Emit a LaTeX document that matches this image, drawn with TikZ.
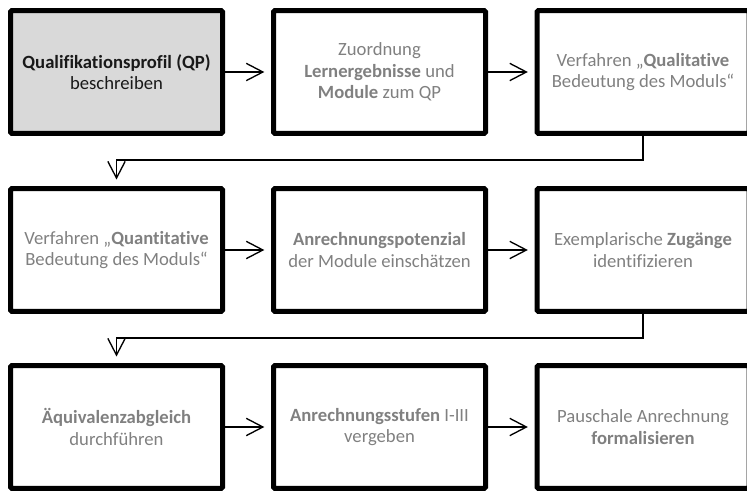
\documentclass[tikz,border=0pt]{standalone}
\usepackage{fontspec}
\setmainfont{Carlito}[Ligatures=NoCommon]
\usetikzlibrary{arrows.meta}
\definecolor{boxgray}{HTML}{D9D9D9}
\definecolor{txtgray}{HTML}{808080}
\begin{document}
\begin{tikzpicture}[x=0.75pt,y=-0.75pt,
    schritt/.style={draw=black,line width=3.75pt,rounded corners=1pt,
        minimum width=159pt,minimum height=92pt,align=center,
        text=txtgray,font=\fontsize{14}{16}\selectfont},
    pfeil/.style={line width=1pt,-{Straight Barb[length=12.5pt,width=13pt]},shorten >=5pt}]
\clip (0,0) rectangle (747,491);

% erste Reihe
\node[schritt,fill=boxgray,text=black!90] (qp) at (116.5,72) {\textbf{Qualifikationsprofil (QP)}\\beschreiben};
\node[schritt] (zuord) at (379.5,72) {Zuordnung\\\textbf{Lernergebnisse} und\\\textbf{Module} zum QP};
\node[schritt] (qual) at (643,72) {Verfahren „\textbf{Qualitative}\\Bedeutung des Moduls“};

% zweite Reihe
\node[schritt] (quant) at (116.5,250) {Verfahren „\textbf{Quantitative}\\Bedeutung des Moduls“};
\node[schritt] (potenz) at (379.5,250) {\textbf{Anrechnungspotenzial}\\der Module einschätzen};
\node[schritt] (zugang) at (643,250) {Exemplarische \textbf{Zugänge}\\identifizieren};

% dritte Reihe
\node[schritt] (aequi) at (116.5,427) {\textbf{Äquivalenzabgleich}\\durchführen};
\node[schritt] (stufen) at (379.5,427) {\textbf{Anrechnungsstufen} I-III\\vergeben};
\node[schritt] (pausch) at (643,427) {Pauschale Anrechnung\\\textbf{formalisieren}};

\coordinate (k1) at (116.5,160);
\coordinate (k2) at (116.5,338);

\draw[pfeil] (qp) -- (zuord);
\draw[pfeil] (zuord) -- (qual);
\draw[pfeil] (qual.south) |- (k1) -- (quant.north);
\draw[pfeil] (quant) -- (potenz);
\draw[pfeil] (potenz) -- (zugang);
\draw[pfeil] (zugang.south) |- (k2) -- (aequi.north);
\draw[pfeil] (aequi) -- (stufen);
\draw[pfeil] (stufen) -- (pausch);
\end{tikzpicture}
\end{document}
